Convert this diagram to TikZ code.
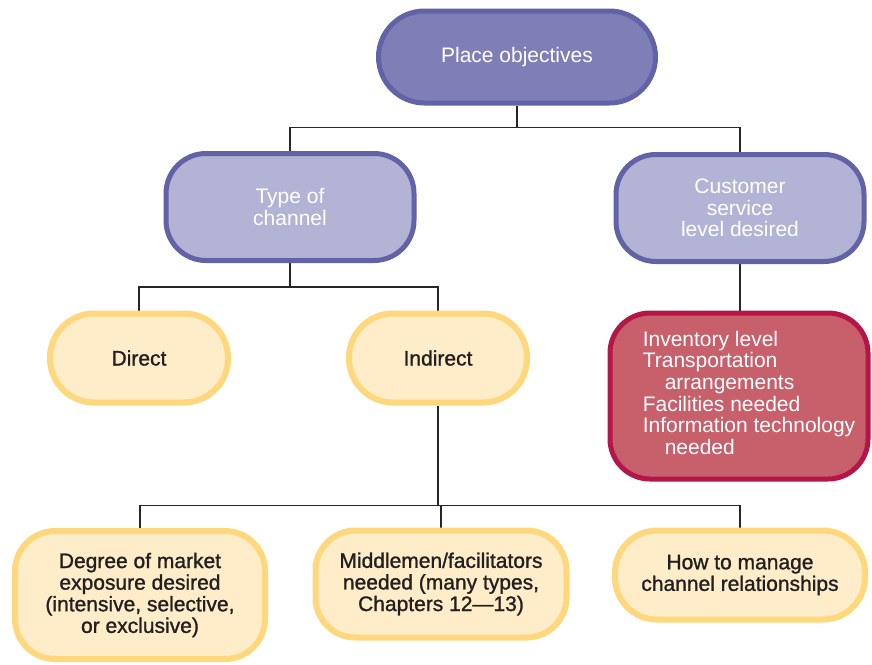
\documentclass[tikz,border=0pt]{standalone}
\usepackage{fontspec}
\setmainfont{Liberation Sans}
\newfontfamily\medfont[Ligatures=TeX,BoldFont=Liberation Sans,BoldFeatures={FakeBold=1.2}]{Liberation Sans}
\usetikzlibrary{backgrounds}
\definecolor{topfill}{RGB}{127,127,183}
\definecolor{midfill}{RGB}{179,179,214}
\definecolor{purpline}{RGB}{98,99,166}
\definecolor{yelfill}{RGB}{254,237,200}
\definecolor{yelline}{RGB}{255,215,125}
\definecolor{redfill}{RGB}{200,96,107}
\definecolor{redline}{RGB}{180,22,74}
\definecolor{inkdark}{RGB}{35,31,32}
\tikzset{
  box/.style={font=\fontsize{21}{21.6}\selectfont,align=center,inner sep=0pt},
  topbox/.style={box,draw=purpline,fill=topfill,line width=5pt,text=white,
    minimum width=277pt,minimum height=92pt,rounded corners=46pt},
  midbox/.style={box,draw=purpline,fill=midfill,line width=5pt,text=white,
    minimum width=248pt,minimum height=107pt,rounded corners=40pt},
  yelbox/.style={box,font=\fontsize{21}{21.6}\medfont\bfseries,draw=yelline,fill=yelfill,
    line width=6pt,text=inkdark,rounded corners=40pt},
  redbox/.style={box,draw=redline,fill=redfill,line width=5pt,text=white,
    minimum width=258pt,minimum height=166pt,rounded corners=40pt},
  link/.style={line width=1.1pt,draw=black!85}
}

\begin{document}
\begin{tikzpicture}[x=1pt,y=-1pt]
  \useasboundingbox (0,0) rectangle (872,664);
  % top level
  \node[topbox] (place) at (517,57) {Place objectives};
  % second level
  \node[midbox] (chan) at (290,207) {Type of\\channel};
  \node[midbox] (serv) at (740,208) {Customer\\service\\level desired};
  % third level
  \node[yelbox,minimum width=178pt,minimum height=89pt,rounded corners=44pt] (direct) at (139,358) {Direct};
  \node[yelbox,minimum width=178pt,minimum height=89pt,rounded corners=44pt] (indirect) at (438,358) {Indirect};
  \node[redbox] (servlist) at (739,396) {\hspace*{20pt}%
    \begin{tabular}{@{}l@{}}
      Inventory level\\
      Transportation\\
      \hspace*{22pt}arrangements\\
      Facilities needed\\
      Information technology\\
      \hspace*{22pt}needed
    \end{tabular}};
  % bottom level
  \node[yelbox,minimum width=250pt,minimum height=128pt] (expo) at (140,595)
    {Degree of market\\exposure desired\\(intensive, selective,\\or exclusive)};
  \node[yelbox,minimum width=251pt,minimum height=107pt] (midmen) at (441,584)
    {Middlemen/facilitators\\needed (many types,\\Chapters 12---13)};
  \node[yelbox,minimum width=250pt,minimum height=89pt,rounded corners=42pt] (manage) at (740,575)
    {How to manage\\channel relationships};

  \begin{scope}[on background layer]
    \draw[link] (place.south) -- ++(0,22) coordinate (j1) -| (chan.north);
    \draw[link] (j1) -| (serv.north);
    \draw[link] (chan.south) -- ++(0,24) coordinate (j2) -| (direct.north);
    \draw[link] (j2) -| (indirect.north);
    \draw[link] (serv.south) -- (serv.south |- servlist.north);
    \draw[link] (indirect.south) -- ++(0,100) coordinate (j3) -| (expo.north);
    \draw[link] (j3) -| (midmen.north);
    \draw[link] (j3) -| (manage.north);
  \end{scope}
\end{tikzpicture}
\end{document}
